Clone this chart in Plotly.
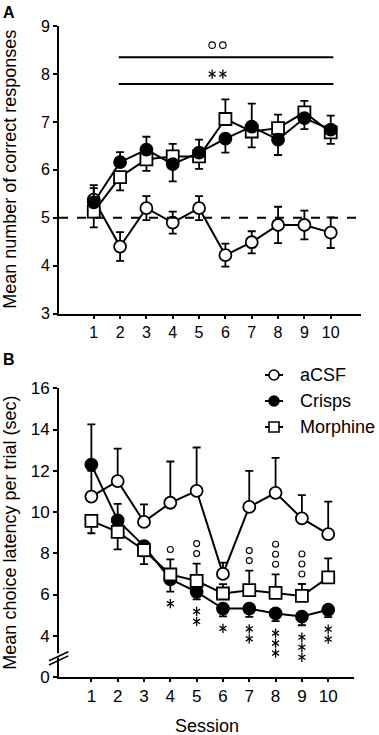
import plotly.graph_objects as go

# ---------------- data ----------------
sessions = [1, 2, 3, 4, 5, 6, 7, 8, 9, 10]
tick_labels_x = ["1", "2", "3", "4", "5", "6", "7", "8", "9", "10"]
groups = ["aCSF", "Crisps", "Morphine"]

# Panel A: mean number of correct responses
A_acsf = [5.38, 4.40, 5.20, 4.90, 5.20, 4.22, 4.49, 4.85, 4.85, 4.69]
A_acsf_sem = [0.30, 0.30, 0.25, 0.23, 0.25, 0.24, 0.23, 0.38, 0.30, 0.32]
A_crisps = [5.32, 6.16, 6.42, 6.12, 6.36, 6.65, 6.90, 6.63, 7.08, 6.84]
A_crisps_sem = [0.30, 0.21, 0.27, 0.36, 0.27, 0.29, 0.48, 0.32, 0.23, 0.29]
A_morph = [5.13, 5.85, 6.22, 6.28, 6.28, 7.06, 6.80, 6.87, 7.20, 6.78]
A_morph_sem = [0.33, 0.28, 0.24, 0.26, 0.26, 0.41, 0.33, 0.28, 0.24, 0.24]
# visible error-bar direction: 1 up, -1 down, 0 both
A_acsf_dir = [0, 0, 0, 0, 0, 0, 0, 0, 0, 0]
A_crisps_dir = [1, 1, 1, -1, 1, -1, 1, -1, -1, 1]
A_morph_dir = [-1, -1, -1, 1, -1, 1, -1, 1, 1, -1]
A_yticks = [3, 4, 5, 6, 7, 8, 9]
A_chance = 5

# Panel B: mean choice latency per trial (sec)
B_acsf = [10.75, 11.50, 9.52, 10.45, 11.03, 7.00, 10.25, 10.93, 9.69, 8.93]
B_acsf_sem = [1.25, 1.57, 0.85, 2.00, 2.10, 0.55, 1.75, 1.70, 1.13, 1.57]
B_crisps = [12.30, 9.60, 8.35, 6.74, 6.13, 5.32, 5.32, 5.08, 4.93, 5.26]
B_crisps_sem = [1.95, 0.80, 0.50, 0.60, 0.37, 0.38, 0.40, 0.37, 0.42, 0.36]
B_morph = [9.57, 9.04, 8.15, 6.97, 6.66, 6.05, 6.21, 6.08, 5.93, 6.83]
B_morph_sem = [0.60, 0.85, 0.68, 0.73, 0.84, 0.45, 0.95, 0.90, 0.58, 0.92]
B_acsf_dir = [1, 1, 1, 1, 1, 1, 1, 1, 1, 1]
B_crisps_dir = [1, 1, -1, -1, -1, -1, -1, -1, -1, -1]
B_morph_dir = [-1, -1, -1, 1, 1, 1, 1, 1, 1, 1]
B_yticks = [2, 4, 6, 8, 10, 12, 14, 16]          # axis position of each tick
B_ytick_labels = ["0", "4", "6", "8", "10", "12", "14", "16"]  # broken axis: bottom = 0

# significance marks in panel B (count per session)
B_crisps_stars = [0, 0, 0, 1, 2, 1, 2, 3, 3, 2]
B_morph_circles = [0, 0, 0, 1, 2, 0, 2, 3, 3, 0]
# panel A overall significance (count of symbols over the bars)
A_sig_circles = 2
A_sig_stars = 2

# ---------------- geometry / style ----------------
W, H = 379, 735
ML, MR, MT, MB = 59, 18, 26, 58
PW = W - ML - MR
PH = H - MT - MB
bottom_px = H - MB
A_bottom_px = 313.7
B_top_px = 388.3
domA = [(bottom_px - A_bottom_px) / PH, 1.0]
domB = [0.0, (bottom_px - B_top_px) / PH]
A_range = [3, 9]
B_range = [2, 16]
A_xrange = [-0.32, 11.15]
B_xrange = [-0.23, 10.98]
A_ppu = (A_bottom_px - MT) / (A_range[1] - A_range[0])
B_ppu = (bottom_px - B_top_px) / (B_range[1] - B_range[0])
A_xppu = PW / (A_xrange[1] - A_xrange[0])

FONT = "Liberation Sans, Arial, sans-serif"
BLACK = "black"
STAR_SIZE = 5.8
STAR_LW = 1.3


def px(xp):
    return (xp - ML) / PW


def py(yp):
    return (bottom_px - yp) / PH


fig = go.Figure()


def add_group(x, y, sem, dirs, symbol, fill, xa, ya, name):
    plus = [s if d >= 0 else 0 for s, d in zip(sem, dirs)]
    minus = [s if d <= 0 else 0 for s, d in zip(sem, dirs)]
    fig.add_trace(go.Scatter(
        x=x, y=y, xaxis=xa, yaxis=ya, name=name, showlegend=False,
        mode="lines+markers",
        line=dict(color=BLACK, width=2),
        marker=dict(symbol=symbol, size=12, color=fill, line=dict(color=BLACK, width=1.8)),
        error_y=dict(type="data", symmetric=False, array=plus, arrayminus=minus,
                     color=BLACK, thickness=1.8, width=4),
        cliponaxis=False,
    ))


def add_stars(xs, ys, xa, ya):
    # six-armed asterisk built from two three-armed marks
    for sym in ("y-up-open", "y-down-open"):
        fig.add_trace(go.Scatter(x=xs, y=ys, xaxis=xa, yaxis=ya, mode="markers",
                                 marker=dict(symbol=sym, size=STAR_SIZE, color=BLACK,
                                             line=dict(color=BLACK, width=STAR_LW)),
                                 showlegend=False, cliponaxis=False, hoverinfo="skip"))


# Panel A (crisps on top)
add_group(sessions, A_acsf, A_acsf_sem, A_acsf_dir, "circle", "white", "x", "y", groups[0])
add_group(sessions, A_morph, A_morph_sem, A_morph_dir, "square", "white", "x", "y", groups[2])
add_group(sessions, A_crisps, A_crisps_sem, A_crisps_dir, "circle", "black", "x", "y", groups[1])

# Panel B (morphine on top)
add_group(sessions, B_acsf, B_acsf_sem, B_acsf_dir, "circle", "white", "x2", "y2", groups[0])
add_group(sessions, B_crisps, B_crisps_sem, B_crisps_dir, "circle", "black", "x2", "y2", groups[1])
add_group(sessions, B_morph, B_morph_sem, B_morph_dir, "square", "white", "x2", "y2", groups[2])

# significance: asterisks below crisps, small circles above morphine
star_x, star_y = [], []
for s, m, e, n in zip(sessions, B_crisps, B_crisps_sem, B_crisps_stars):
    for k in range(n):
        star_x.append(s)
        star_y.append(m - e - (12 + 10 * k) / B_ppu)
add_stars(star_x, star_y, "x2", "y2")

circ_x, circ_y = [], []
for s, m, e, n in zip(sessions, B_morph, B_morph_sem, B_morph_circles):
    for k in range(n):
        circ_x.append(s)
        circ_y.append(m + e + (10 + 10 * k) / B_ppu)
fig.add_trace(go.Scatter(x=circ_x, y=circ_y, xaxis="x2", yaxis="y2", mode="markers",
                         marker=dict(symbol="circle-open", size=6, color=BLACK, line=dict(width=1.1)),
                         showlegend=False, cliponaxis=False, hoverinfo="skip"))

# panel A significance bars and symbols
barA_upper, barA_lower = 8.35, 7.79
barA_x0, barA_x1 = 1.95, 10.1
sigA_center = 5.7
sym_gap = 10.7 / A_xppu
sigA_xs = [sigA_center + (i - (A_sig_circles - 1) / 2) * sym_gap for i in range(A_sig_circles)]
fig.add_trace(go.Scatter(x=sigA_xs, y=[barA_upper + 12 / A_ppu] * A_sig_circles,
                         xaxis="x", yaxis="y", mode="markers",
                         marker=dict(symbol="circle-open", size=6.5, color=BLACK, line=dict(width=1.1)),
                         showlegend=False, cliponaxis=False, hoverinfo="skip"))
starA_xs = [sigA_center + (i - (A_sig_stars - 1) / 2) * sym_gap for i in range(A_sig_stars)]
add_stars(starA_xs, [barA_lower + 10 / A_ppu] * A_sig_stars, "x", "y")

axis_common = dict(showline=True, linecolor=BLACK, linewidth=2, ticks="outside",
                   tickcolor=BLACK, tickwidth=2, showgrid=False, zeroline=False,
                   mirror=False)

fig.update_layout(
    width=W, height=H, autosize=False,
    margin=dict(l=ML, r=MR, t=MT, b=MB, pad=0),
    paper_bgcolor="white", plot_bgcolor="white",
    font=dict(family=FONT, color=BLACK),
    showlegend=False,
    xaxis=dict(domain=[0, 1], range=A_xrange, anchor="y", tickvals=sessions,
               ticktext=tick_labels_x, ticklen=3, tickfont=dict(size=16), **axis_common),
    yaxis=dict(domain=domA, range=A_range, anchor="x", tickvals=A_yticks, ticklen=4,
               tickfont=dict(size=16), **axis_common),
    xaxis2=dict(domain=[0, (354 - ML) / PW], range=B_xrange, anchor="y2",
                tickvals=sessions, ticktext=tick_labels_x, ticklen=3,
                tickfont=dict(size=17), **axis_common),
    yaxis2=dict(domain=domB, range=B_range, anchor="x2", tickvals=B_yticks,
                ticktext=B_ytick_labels, ticklen=4, tickfont=dict(size=17), **axis_common),
)

# chance line (panel A)
fig.add_shape(type="line", xref="x", yref="y", x0=A_xrange[0], x1=A_xrange[1],
              y0=A_chance, y1=A_chance, line=dict(color=BLACK, width=2, dash="dash"))

for yb in (barA_upper, barA_lower):
    fig.add_shape(type="line", xref="x", yref="y", x0=barA_x0, x1=barA_x1, y0=yb, y1=yb,
                  line=dict(color=BLACK, width=2))

# axis break (panel B)
fig.add_shape(type="rect", xref="paper", yref="paper", x0=px(56), x1=px(63),
              y0=py(657.5), y1=py(653.2), line=dict(width=0), fillcolor="white", layer="above")
for y_l, y_r in ((660.7, 651.7), (665.0, 655.9)):
    fig.add_shape(type="line", xref="paper", yref="paper", x0=px(49), x1=px(68.3),
                  y0=py(y_l), y1=py(y_r), line=dict(color=BLACK, width=1.6), layer="above")

ann = dict(xref="paper", yref="paper", showarrow=False, xanchor="center", yanchor="middle")

# legend (drawn manually inside panel B)
leg_line_x0, leg_line_x1, leg_text_x = 265, 283, 298
leg_rows = [375, 401, 427]
leg_r = 5
for name, row, kind, fill in zip(groups, leg_rows, ["circle", "circle", "rect"],
                                 ["white", "black", "white"]):
    fig.add_shape(type="line", xref="paper", yref="paper", x0=px(leg_line_x0), x1=px(leg_line_x1),
                  y0=py(row), y1=py(row), line=dict(color=BLACK, width=2), layer="above")
    cx = (leg_line_x0 + leg_line_x1) / 2
    fig.add_shape(type=kind, xref="paper", yref="paper", x0=px(cx - leg_r), x1=px(cx + leg_r),
                  y0=py(row + leg_r), y1=py(row - leg_r), fillcolor=fill,
                  line=dict(color=BLACK, width=1.6), layer="above")
    fig.add_annotation(x=px(leg_text_x), y=py(row), text=name, showarrow=False,
                       xref="paper", yref="paper", xanchor="left", yanchor="middle",
                       font=dict(size=18, family=FONT))

# titles and panel letters
fig.add_annotation(x=px(10), y=(domA[0] + domA[1]) / 2,
                   text="Mean number of correct responses", textangle=-90,
                   font=dict(size=18, family=FONT), **ann)
fig.add_annotation(x=px(10), y=(domB[0] + domB[1]) / 2,
                   text="Mean choice latency per trial (sec)", textangle=-90,
                   font=dict(size=18, family=FONT), **ann)
fig.add_annotation(x=px(206.7), y=py(726), text="Session",
                   font=dict(size=18, family=FONT), **ann)
fig.add_annotation(x=px(9), y=py(12), text="<b>A</b>", font=dict(size=16, family=FONT), **ann)
fig.add_annotation(x=px(9), y=py(359), text="<b>B</b>", font=dict(size=16, family=FONT), **ann)

fig.write_html("out.html", config={"displayModeBar": False},
               post_script="document.body.style.margin='0';")
